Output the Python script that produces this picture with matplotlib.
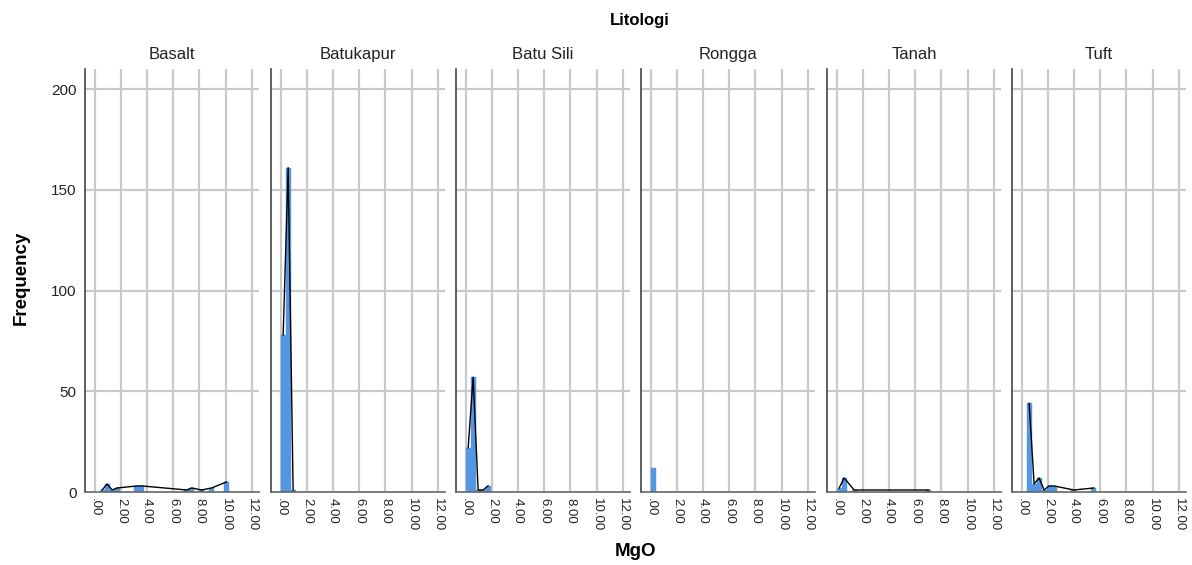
import matplotlib
matplotlib.use("Agg")
import matplotlib.pyplot as plt
import numpy as np

plt.rcParams['font.family'] = ['Liberation Sans', 'DejaVu Sans']

# ---- data ----
lithologies = ["Basalt", "Batukapur", "Batu Sili", "Rongga", "Tanah", "Tuft"]
bin_width = 0.38
# bin start values of MgO (non-empty bins) and counts
basalt_start = [0.38, 0.76, 1.14, 1.52, 3.04, 3.42, 6.84, 7.22, 7.98, 8.74, 9.88]
basalt_count = [1, 4, 1, 2, 3, 3, 1, 2, 1, 2, 5]
batukapur_start = [0.00, 0.38, 0.76]
batukapur_count = [78, 161, 1]
batusili_start = [0.00, 0.38, 0.76, 1.14, 1.52]
batusili_count = [22, 57, 1, 1, 3]
rongga_start = [0.00]
rongga_count = [12]
tanah_start = [0.00, 0.38, 1.14, 6.84]
tanah_count = [2, 7, 1, 1]
tuft_start = [0.38, 0.76, 1.14, 1.52, 1.90, 2.28, 3.80, 5.32]
tuft_count = [44, 4, 7, 1, 3, 3, 1, 2]

starts = [basalt_start, batukapur_start, batusili_start, rongga_start, tanah_start, tuft_start]
counts = [basalt_count, batukapur_count, batusili_count, rongga_count, tanah_count, tuft_count]

x_ticks = [0, 2, 4, 6, 8, 10, 12]
x_tick_labels = [".00", "2.00", "4.00", "6.00", "8.00", "10.00", "12.00"]
y_ticks = [0, 50, 100, 150, 200]

# ---- figure ----
W, H = 1192, 565
fig = plt.figure(figsize=(W / 100, H / 100), dpi=100)
bar_color = "#5496e2"
grid_color = "#c9c9c9"

lefts = [85, 271, 456, 641, 827, 1012]
pw = 174
top_px, bot_px = 69, 492

for i, name in enumerate(lithologies):
    ax = fig.add_axes([lefts[i] / W, 1 - bot_px / H, pw / W, (bot_px - top_px) / H])
    ax.set_xlim(-0.74, 12.55)
    ax.set_ylim(0, 210)
    for xv in x_ticks:
        ax.axvline(xv, color=grid_color, lw=1.6, zorder=0)
    for yv in y_ticks[1:]:
        ax.axhline(yv, color=grid_color, lw=1.6, zorder=0)
    s = np.array(starts[i])
    c = np.array(counts[i])
    ax.bar(s, c, width=bin_width, align="edge", color=bar_color,
           edgecolor=bar_color, linewidth=0.3, zorder=2)
    if len(s) > 1:
        ax.plot(s + bin_width / 2, c, color="black", lw=1.0, zorder=3)
    for side in ["top", "right"]:
        ax.spines[side].set_visible(False)
    ax.spines["left"].set_color("#444444")
    ax.spines["bottom"].set_color("#666666")
    ax.spines["left"].set_linewidth(1.2)
    ax.spines["bottom"].set_linewidth(1.2)
    ax.set_xticks(x_ticks)
    ax.set_xticklabels(x_tick_labels, rotation=-90, fontsize=9.5, color="#222222")
    ax.tick_params(axis="x", length=0, pad=4)
    ax.set_yticks(y_ticks)
    if i == 0:
        ax.set_yticklabels([str(v) for v in y_ticks], fontsize=11, color="#222222")
        ax.tick_params(axis="y", length=0, pad=6)
    else:
        ax.set_yticklabels([])
        ax.tick_params(axis="y", length=0)
    ax.set_title(name, fontsize=12, pad=7, color="#222222")

fig.text(640 / W, 1 - 20 / H, "Litologi", ha="center", va="center",
         fontsize=12, fontweight="bold")
fig.text(636 / W, 1 - 552 / H, "MgO", ha="center", va="center",
         fontsize=13.5, fontweight="bold")
fig.text(21 / W, 1 - 278 / H, "Frequency", ha="center", va="center",
         rotation=90, fontsize=13.5, fontweight="bold")

fig.savefig("out.png", dpi=100)
